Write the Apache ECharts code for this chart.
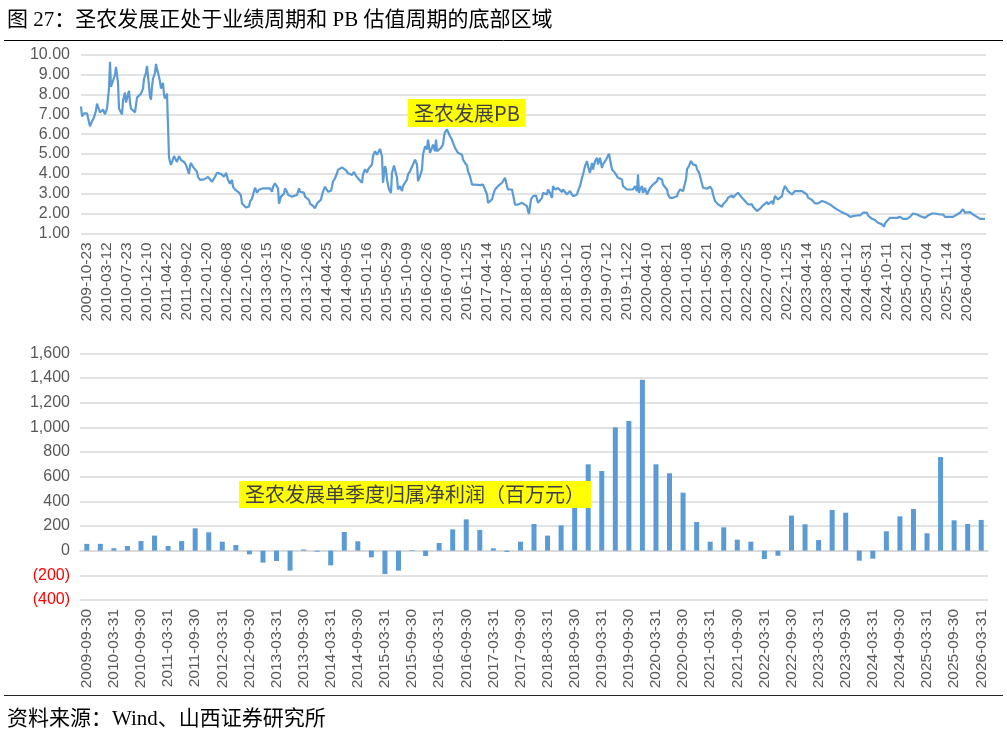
<!DOCTYPE html>
<html>
<head>
<meta charset="utf-8">
<script src="https://cdn.jsdelivr.net/npm/echarts@6/dist/echarts.min.js"></script>
<style>
html,body{margin:0;padding:0;background:#fff;}
#chart{width:1007px;height:735px;}
</style>
</head>
<body>
<div id="chart"></div>
<script>
// ---------- DATA ----------
const titleText = '图 27：圣农发展正处于业绩周期和 PB 估值周期的底部区域';
const sourceText = '资料来源：Wind、山西证券研究所';
const pbLabel = '圣农发展PB';
const profitLabel = '圣农发展单季度归属净利润（百万元）';

// weekly tick labels of the PB chart (one every 20 weeks)
const pbTickLabels = ['2009-10-23','2010-03-12','2010-07-23','2010-12-10','2011-04-22','2011-09-02','2012-01-20','2012-06-08','2012-10-26','2013-03-15','2013-07-26','2013-12-06','2014-04-25','2014-09-05','2015-01-16','2015-05-29','2015-10-09','2016-02-26','2016-07-08','2016-11-25','2017-04-14','2017-08-25','2018-01-12','2018-05-25','2018-10-12','2019-03-01','2019-07-12','2019-11-22','2020-04-10','2020-08-21','2021-01-08','2021-05-21','2021-09-30','2022-02-25','2022-07-08','2022-11-25','2023-04-14','2023-08-25','2024-01-12','2024-05-31','2024-10-11','2025-02-21','2025-07-04','2025-11-14','2026-04-03'];

// PB series: [week index since 2009-10-23, PB]
const pbPoints = [
[0,7.4],[1,6.9],[3,7.05],[6,7.05],[8,6.95],[9,6.4],[11,6.65],[13,6.85],[15,7.2],[16,7.55],[17,7.4],[19,7.1],[20,7.0],[22,7.25],[24,7.0],[26,7.3],[27,7.8],[28,8.3],[29,9.66],[30,8.4],[32,8.7],[33,8.6],[34,9.0],[35,9.4],[37,8.6],[38,7.3],[40,7.25],[41,7.0],[42,7.7],[44,8.1],[45,7.6],[46,7.8],[48,8.2],[49,7.6],[50,7.3],[52,7.3],[54,7.1],[56,7.85],[58,7.9],[60,8.05],[62,8.3],[63,8.8],[65,9.1],[66,9.45],[68,9.5],[69,7.9],[70,7.75],[71,8.4],[72,8.8],[74,9.1],[75,9.55],[76,9.3],[78,8.9],[79,8.65],[80,8.3],[82,8.6],[83,8.0],[84,7.8],[86,8.05],[87,8.1],
[88,4.85],[89,4.6],[90,4.45],[92,4.55],[93,4.9],[94,4.95],[96,4.6],[97,4.5],[98,4.9],[100,4.7],[102,4.75],[103,4.6],[105,4.45],[106,4.3],[108,4.0],[109,4.4],[110,4.55],[112,4.35],[114,4.3],[116,4.1],[117,3.85],[119,3.7],[121,3.65],[123,3.72],[125,3.65],[127,3.85],[129,3.95],[131,3.6],[132,3.62],[134,3.85],[136,4.05],[138,4.12],[140,4.0],[142,3.95],[143,3.85],[145,4.05],[147,3.7],[149,3.5],[151,3.7],[152,3.35],[154,3.2],[156,3.1],[158,3.05],[160,2.9],[161,2.5],[163,2.45],[165,2.3],[166,2.25],[168,2.35],[169,2.6],[171,2.75],[172,2.85],[174,3.3],[176,3.05],[178,3.2],[180,3.25],[182,3.27],[186,3.27],[189,3.27],[191,3.1],[192,3.35],[194,3.52],[196,3.55],[197,3.27],[198,2.5],[200,2.85],[202,2.85],[203,3.0],[204,3.27],[206,3.1],[207,2.95],[209,3.0],[211,2.85],[213,2.9],[216,2.93],[218,3.27],[219,3.1],[221,3.2],[223,3.05],[224,2.85],[226,2.85],[228,2.68],[229,2.5],[231,2.43],[232,2.38],[234,2.27],[236,2.5],[238,2.55],[240,2.7],[241,2.93],[242,3.1],[244,3.35],[246,3.45],[247,3.1],[250,3.15],[251,3.35],[252,3.6],[254,3.78],[256,4.03],[257,4.2],[259,4.3],[261,4.33],[263,4.28],[265,4.18],[267,4.03],[269,4.1],[271,3.95],[273,4.1],[275,3.9],[277,3.78],[279,3.72],
[281,3.55],[282,3.97],[284,4.22],[286,4.08],[287,4.22],[289,4.35],[291,4.47],[292,4.89],[294,5.14],[296,4.97],[297,5.06],[299,5.26],[301,4.89],[302,3.55],[303,3.46],[304,4.39],[305,4.22],[306,3.71],[308,3.21],[310,3.04],[311,4.05],[313,4.42],[314,4.39],[316,3.8],[317,3.21],[319,3.38],[321,3.13],[322,3.38],[324,3.55],[326,3.71],[327,3.97],[329,4.13],[331,4.22],[332,4.47],[334,4.72],[336,4.47],[337,3.63],[339,3.88],[341,4.22],[342,4.97],[344,5.39],[346,5.23],[347,5.73],[349,5.06],[351,5.31],[352,5.48],[354,5.14],[355,5.73],[356,5.14],[358,5.23],[360,5.31],[362,5.48],[363,5.9],[364,6.1],[366,6.24],[367,6.15],[369,5.9],[371,5.73],[372,5.56],[374,5.31],[376,5.23],[377,5.06],[379,5.14],[381,4.97],[382,4.72],[384,4.55],[386,4.42],[387,4.13],[389,3.88],[391,3.46],[394,3.46],[399,3.43],[402,3.46],[404,3.38],[406,2.96],[407,2.54],[409,2.62],[411,2.71],[412,2.91],[414,3.21],[416,3.29],[417,3.38],[419,3.46],[421,3.55],[422,3.63],[424,3.8],[426,3.38],[427,3.21],[429,3.29],[431,3.21],[432,3.13],[434,2.45],[436,2.37],[437,2.45],[439,2.4],[441,2.54],[442,2.45],[446,2.37],[447,2.12],[448,1.98],[450,2.71],[452,2.87],[453,2.79],[455,2.91],[457,2.54],[459,2.62],[461,2.79],[462,3.04],[464,3.13],[466,2.96],[467,3.21],[469,3.04],[471,2.79],[472,3.38],[474,3.21],[476,3.13],[477,3.29],[479,3.21],[481,3.08],[482,3.21],[484,3.13],[486,2.96],[487,2.91],[489,3.13],[491,3.04],[492,2.87],[494,2.87],[496,2.96],[497,3.13],[499,3.38],[501,3.8],[502,3.97],[504,4.39],[506,4.64],[507,4.39],[509,4.05],[511,4.55],[512,4.22],[514,4.64],[516,4.81],[517,4.47],[519,4.81],[521,4.3],[522,4.47],[524,4.64],[526,4.81],[527,4.89],[528,5.02],[530,4.47],[531,4.22],[532,4.13],[534,4.05],[536,3.97],[537,3.8],[539,3.88],[541,3.71],[542,3.38],[544,3.29],[546,3.21],[549,3.21],[552,3.21],[554,3.38],[556,3.13],[557,3.97],[558,3.04],[559,3.21],[561,3.38],[562,3.04],[564,3.29],[566,2.96],[567,2.96],[569,3.29],[571,3.38],[572,3.46],[574,3.38],[576,3.63],[577,3.8],[579,3.8],[581,3.71],[582,3.46],[584,3.38],[586,3.21],[587,2.96],[589,2.79],[591,2.71],[592,2.79],[594,2.71],[596,2.87],[597,3.04],[599,3.21],
[601,3.3],[602,3.13],[604,3.22],[605,3.72],[606,4.23],[608,4.4],[609,4.48],[610,4.65],[611,4.57],[612,4.48],[614,4.4],[615,4.43],[616,4.23],[618,4.06],[619,3.89],[621,3.98],[622,3.3],[624,3.22],[626,3.25],[627,3.3],[629,3.35],[631,3.22],[632,2.96],[634,2.63],[636,2.58],[637,2.46],[639,2.54],[641,2.34],[642,2.46],[644,2.54],[646,2.68],[647,2.8],[649,2.88],[651,2.91],[652,2.8],[654,2.91],[656,2.88],[657,3.05],[659,2.96],[661,2.8],[662,2.71],[664,2.63],[666,2.54],[667,2.46],[669,2.41],[671,2.46],[672,2.34],[674,2.29],[676,2.12],[677,2.17],[679,2.24],[681,2.29],[682,2.41],[684,2.51],[686,2.58],[687,2.46],[689,2.54],[691,2.63],[692,2.46],[694,2.88],[696,2.96],[697,2.71],[699,2.8],[701,2.88],[702,3.13],[704,3.39],[706,3.3],[707,3.13],[709,3.08],[711,2.96],[712,3.05],[714,3.13],[716,3.05],[717,3.13],[719,3.05],[721,3.13],[722,3.05],[726,2.96],[727,2.8],[729,2.71],[731,2.68],[732,2.58],[734,2.51],[736,2.46],[737,2.51],[739,2.58],[741,2.63],[742,2.68],[744,2.58],[746,2.51],[749,2.46],[751,2.41],[752,2.34],[754,2.24],[756,2.21],[757,2.17],[759,2.12],[761,2.07],[762,2.04],[764,2.0],[766,1.95],[767,1.9],[769,1.83],[771,1.9],[772,1.87],[774,1.95],[776,1.9],[777,1.95],[779,1.9],[781,1.95],[782,2.04],[784,2.12],[786,2.04],[787,1.9],[789,1.83],[791,1.73],[792,1.7],[794,1.67],[796,1.62],[797,1.53],[799,1.5],[801,1.45],[802,1.36],[803,1.33],[804,1.5],[806,1.62],[807,1.7],[809,1.78],[811,1.7],[812,1.78],[814,1.83],[816,1.78],[817,1.73],[819,1.83],[821,1.78],[822,1.73],[826,1.73],[829,1.83],[831,1.9],[832,2.0],[834,2.04],[836,1.95],[837,1.9],[839,1.87],[841,1.83],[844,1.78],[847,1.9],[849,1.95],[851,2.0],[852,2.04],[854,2.0],[856,1.95],[859,1.95],[862,1.95],[864,1.83],[866,1.9],[867,1.83],[869,1.87],[872,1.83],[874,1.9],[876,1.95],[879,2.04],[881,2.12],[882,2.21],[883,2.17],[884,2.04],[886,2.07],[889,2.07],[892,1.95],[894,1.9],[896,1.83],[897,1.78],[899,1.73],[901,1.78],[902,1.73],[904,1.73]
];

// quarterly net profit attributable (million CNY)
const quarters = ['2009-09-30','2009-12-31',
'2010-03-31','2010-06-30','2010-09-30','2010-12-31',
'2011-03-31','2011-06-30','2011-09-30','2011-12-31',
'2012-03-31','2012-06-30','2012-09-30','2012-12-31',
'2013-03-31','2013-06-30','2013-09-30','2013-12-31',
'2014-03-31','2014-06-30','2014-09-30','2014-12-31',
'2015-03-31','2015-06-30','2015-09-30','2015-12-31',
'2016-03-31','2016-06-30','2016-09-30','2016-12-31',
'2017-03-31','2017-06-30','2017-09-30','2017-12-31',
'2018-03-31','2018-06-30','2018-09-30','2018-12-31',
'2019-03-31','2019-06-30','2019-09-30','2019-12-31',
'2020-03-31','2020-06-30','2020-09-30','2020-12-31',
'2021-03-31','2021-06-30','2021-09-30','2021-12-31',
'2022-03-31','2022-06-30','2022-09-30','2022-12-31',
'2023-03-31','2023-06-30','2023-09-30','2023-12-31',
'2024-03-31','2024-06-30','2024-09-30','2024-12-31',
'2025-03-31','2025-06-30','2025-09-30','2025-12-31',
'2026-03-31'];
const profit = [55,55,
20,38,78,122,
38,78,181,149,
73,46,-30,-97,
-84,-162,10,-8,
-119,151,76,-54,
-190,-162,5,-43,
62,173,254,168,
19,-10,73,216,
122,205,360,700,
646,1000,1051,1386,
700,627,470,232,
73,189,89,73,
-68,-41,284,214,
86,330,308,-81,
-65,157,278,338,
141,759,246,216,
249];

// ---------- CHART ----------
const FONT = "'Liberation Sans', Arial, 'Noto Sans CJK SC', sans-serif";
const CJK = "'Noto Sans CJK SC', sans-serif";
const SERIF = "'Liberation Serif', 'Noto Sans CJK SC', serif";
const GRID = '#D9D9D9';
const LABEL = '#595959';
const BLUE = '#5B9BD5';

const chart = echarts.init(document.getElementById('chart'), null, {renderer: 'canvas'});

function fmtThousands(v) {
  return Math.abs(v).toString().replace(/\B(?=(\d{3})+(?!\d))/g, ',');
}

chart.setOption({
  animation: false,
  backgroundColor: '#fff',
  title: [
    {text: titleText, left: 2, top: 5, textStyle: {fontFamily: SERIF, fontSize: 21, fontWeight: 'normal', color: '#000'}},
    {text: pbLabel, left: 408, top: 99, backgroundColor: '#FFFF00', padding: [3, 6, 3, 6],
     textStyle: {fontFamily: CJK, fontSize: 20, fontWeight: 'normal', color: '#404040', lineHeight: 22}},
    {text: profitLabel, left: 239, top: 481, backgroundColor: '#FFFF00', padding: [2, 6, 2, 6],
     textStyle: {fontFamily: CJK, fontSize: 20, fontWeight: 'normal', color: '#404040', lineHeight: 23}},
    {text: sourceText, left: 2, top: 704, textStyle: {fontFamily: SERIF, fontSize: 21, fontWeight: 'normal', color: '#000'}}
  ],
  graphic: [
    {type: 'line', shape: {x1: 4, y1: 40.5, x2: 1003, y2: 40.5}, style: {stroke: '#000', lineWidth: 1}},
    {type: 'line', shape: {x1: 4, y1: 695.5, x2: 1003, y2: 695.5}, style: {stroke: '#222', lineWidth: 1.2}}
  ],
  grid: [
    {left: 81, right: 21, top: 55, height: 178.3},
    {left: 80, right: 19, top: 353.3, height: 246.7}
  ],
  xAxis: [
    {
      gridIndex: 0, type: 'value', min: 0, max: 905, interval: 20,
      axisLine: {show: false}, axisTick: {show: false}, splitLine: {show: false},
      axisLabel: {
        rotate: 90, margin: 9, fontFamily: FONT, fontSize: 15.5, color: LABEL,
        verticalAlign: 'top', lineHeight: 12, showMaxLabel: false,
        formatter: function (v) { return (v % 20 === 0 && pbTickLabels[v / 20]) ? pbTickLabels[v / 20] : ''; }
      }
    },
    {
      gridIndex: 1, type: 'category', data: quarters, boundaryGap: true,
      axisLine: {show: true, onZero: true, lineStyle: {color: GRID, width: 1.5}},
      axisTick: {show: false}, splitLine: {show: false},
      axisLabel: {rotate: 90, margin: 9, interval: 1, fontFamily: FONT, fontSize: 15.5, color: LABEL}
    }
  ],
  yAxis: [
    {
      gridIndex: 0, type: 'value', min: 1, max: 10, interval: 1,
      axisLine: {show: false}, axisTick: {show: false},
      splitLine: {lineStyle: {color: GRID, width: 1.5}},
      axisLabel: {margin: 11, fontFamily: FONT, fontSize: 16, color: LABEL, formatter: function (v) { return v.toFixed(2); }}
    },
    {
      gridIndex: 1, type: 'value', min: -400, max: 1600, interval: 200,
      axisLine: {show: false}, axisTick: {show: false},
      splitLine: {lineStyle: {color: GRID, width: 1.5}},
      axisLabel: {
        margin: 10, fontFamily: FONT, fontSize: 16,
        color: function (v) { return Number(v) < 0 ? '#FF0000' : LABEL; },
        formatter: function (v) { return v < 0 ? '(' + fmtThousands(v) + ')' : fmtThousands(v); }
      }
    }
  ],
  series: [
    {
      type: 'line', xAxisIndex: 0, yAxisIndex: 0, data: pbPoints,
      showSymbol: false, symbol: 'none', smooth: false,
      lineStyle: {color: BLUE, width: 2.2}
    },
    {
      type: 'bar', xAxisIndex: 1, yAxisIndex: 1, data: profit,
      barWidth: 5, itemStyle: {color: BLUE}
    }
  ]
});
</script>
</body>
</html>
